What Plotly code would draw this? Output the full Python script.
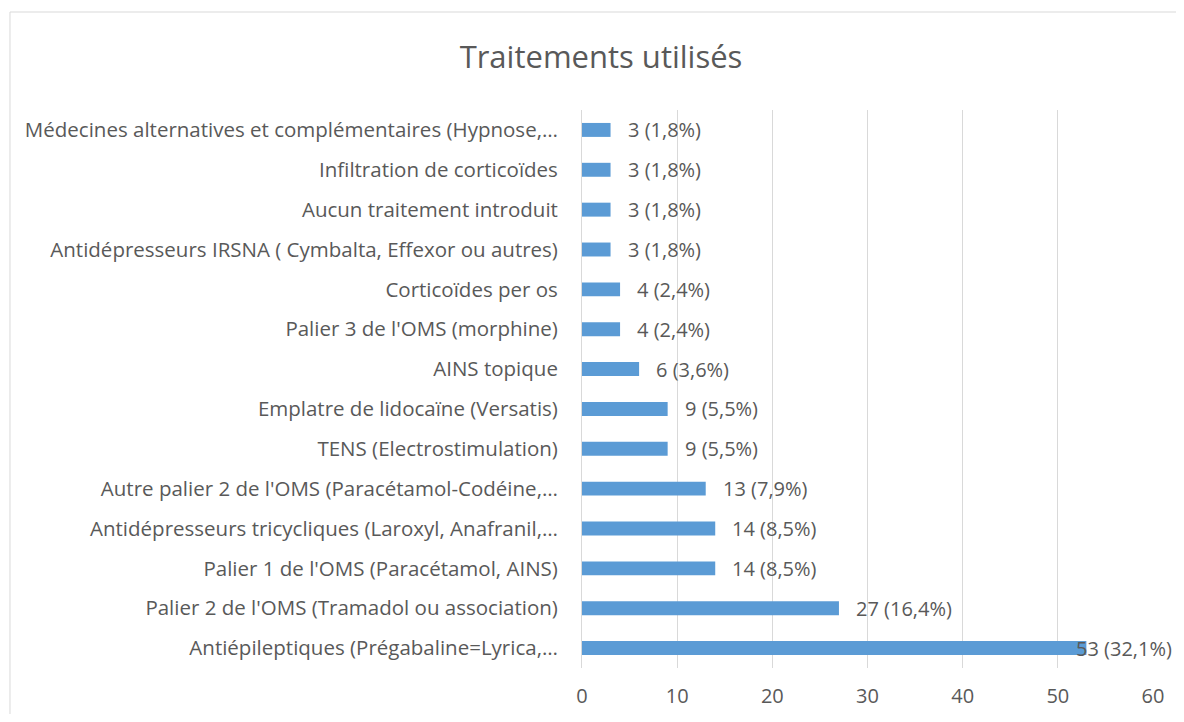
import plotly.graph_objects as go

# categories listed top to bottom as in the chart
categories = [
    "Médecines alternatives et complémentaires (Hypnose,…",
    "Infiltration de corticoïdes",
    "Aucun traitement introduit",
    "Antidépresseurs IRSNA ( Cymbalta, Effexor ou autres)",
    "Corticoïdes per os",
    "Palier 3 de l'OMS (morphine)",
    "AINS topique",
    "Emplatre de lidocaïne (Versatis)",
    "TENS (Electrostimulation)",
    "Autre palier 2 de l'OMS (Paracétamol-Codéine,…",
    "Antidépresseurs tricycliques (Laroxyl, Anafranil,…",
    "Palier 1 de l'OMS (Paracétamol, AINS)",
    "Palier 2 de l'OMS (Tramadol ou association)",
    "Antiépileptiques (Prégabaline=Lyrica,…",
]
counts = [3, 3, 3, 3, 4, 4, 6, 9, 9, 13, 14, 14, 27, 53]
percents = ["1,8%", "1,8%", "1,8%", "1,8%", "2,4%", "2,4%", "3,6%",
            "5,5%", "5,5%", "7,9%", "8,5%", "8,5%", "16,4%", "32,1%"]
x_ticks = [0, 10, 20, 30, 40, 50, 60]

FONT = "Open Sans"
GREY = "#595959"
W, H = 1168, 706  # page body adds an 8px margin

fig = go.Figure()
fig.add_trace(go.Bar(
    x=counts,
    y=categories,
    orientation="h",
    width=0.35,
    marker=dict(color="#5B9BD5", line=dict(width=0)),
    hoverinfo="x+y",
))

# value labels next to the bar ends
for c, cat, p in zip(counts, categories, percents):
    fig.add_annotation(
        x=c, y=cat, text=f"{c} ({p})",
        xanchor="left", yanchor="middle",
        xshift=-12 if c == max(counts) else 15,
        showarrow=False,
        font=dict(family=FONT, size=20, color=GREY),
    )

# outer chart border (cropped on the right and bottom)
fig.add_shape(
    type="rect", xref="paper", yref="paper",
    x0=-1.0018, x1=1.5, y0=-0.5, y1=1.1756,
    line=dict(color="#D9D9D9", width=1), layer="below",
)

fig.update_layout(
    width=W, height=H,
    paper_bgcolor="white", plot_bgcolor="white",
    margin=dict(l=574, r=23, t=102, b=46),
    showlegend=False,
    title=dict(
        text="Traitements utilisés",
        x=593 / W, xanchor="center",
        y=1 - 49 / H, yanchor="middle",
        font=dict(family=FONT, size=31, color=GREY),
    ),
    font=dict(family=FONT, color=GREY),
)
fig.update_xaxes(
    range=[0, 60], tickvals=x_ticks,
    showgrid=True, gridcolor="#D9D9D9", gridwidth=1,
    zeroline=False, showline=False,
    tickfont=dict(family=FONT, size=20, color=GREY),
    ticklabelstandoff=14,
    automargin=False,
    fixedrange=True,
)
fig.update_yaxes(
    categoryorder="array", categoryarray=categories,
    range=[len(categories) - 0.5, -0.5],
    showgrid=False, showline=True, linecolor="#D9D9D9", linewidth=1,
    zeroline=False,
    tickfont=dict(family=FONT, size=20.5, color=GREY),
    ticklabelstandoff=19,
    automargin=False,
    fixedrange=True,
)

fig.write_html("out.html")
